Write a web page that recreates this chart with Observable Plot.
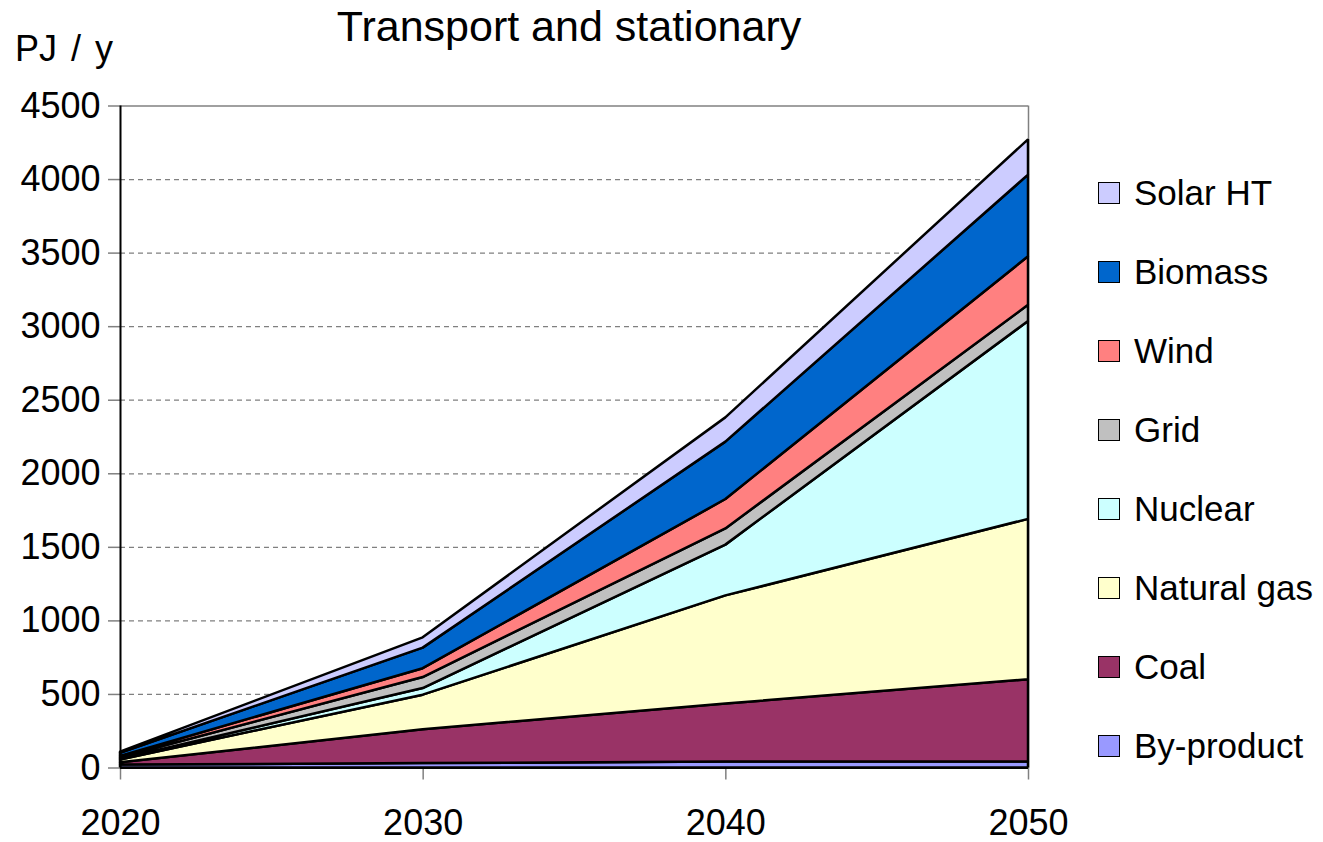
<!DOCTYPE html>
<html>
<head>
<meta charset="utf-8">
<script src="https://cdn.jsdelivr.net/npm/d3@7"></script>
<script src="https://cdn.jsdelivr.net/npm/@observablehq/plot@0.6"></script>
<style>
  html, body { margin: 0; padding: 0; background: #fff; }
  #page {
    position: relative; width: 1323px; height: 842px; overflow: hidden;
    font-family: "Liberation Sans", Arial, sans-serif; color: #000;
  }
  #chart { position: absolute; left: 0; top: 0; }
  #title {
    position: absolute; left: 0; width: 1138px; top: 5px;
    text-align: center; font-size: 43px; line-height: 43px;
  }
  #unit {
    position: absolute; left: 15px; top: 31px;
    font-size: 36px; line-height: 36px; word-spacing: 4px;
  }
  #legend { position: absolute; left: 1098px; top: 153px; }
  .row { display: flex; align-items: center; height: 79px; }
  .swatch {
    width: 20px; height: 20px; border: 1.5px solid #000;
    margin-right: 14px; flex: none;
  }
  .label { font-size: 35px; line-height: 35px; white-space: nowrap; }
</style>
</head>
<body>
<div id="page">
  <div id="chart"></div>
  <div id="title">Transport and stationary</div>
  <div id="unit">PJ / y</div>
  <div id="legend"></div>
</div>
<script>
// Years on the x axis
const years = [2020, 2030, 2040, 2050];

// Energy sources, bottom of the stack first
const sources = ["By-product", "Coal", "Natural gas", "Nuclear", "Grid", "Wind", "Biomass", "Solar HT"];
const sourceColors = ["#9999FF", "#993366", "#FFFFCC", "#CCFFFF", "#C0C0C0", "#FF8080", "#0066CC", "#CCCCFF"];

// Energy use per source (PJ / y), one value per year
const byProduct  = [20, 30, 40, 40];
const coal       = [15, 230, 395, 560];
const naturalGas = [20, 235, 735, 1090];
const nuclear    = [5, 45, 345, 1345];
const grid       = [10, 75, 110, 110];
const wind       = [8, 60, 200, 330];
const biomass    = [22, 140, 390, 555];
const solarHT    = [8, 70, 165, 240];

// y axis tick values
const yTicks = [0, 500, 1000, 1500, 2000, 2500, 3000, 3500, 4000, 4500];

const seriesValues = [byProduct, coal, naturalGas, nuclear, grid, wind, biomass, solarHT];
const rows = [];
sources.forEach((s, i) => {
  years.forEach((y, j) => rows.push({source: s, year: y, value: seriesValues[i][j]}));
});

const chart = Plot.plot({
  width: 1060,
  height: 842,
  marginLeft: 120,
  marginRight: 32,
  marginTop: 105.5,
  marginBottom: 74.5,
  style: {
    fontFamily: "'Liberation Sans', Arial, sans-serif",
    fontSize: "36px",
    color: "#000",
    background: "transparent",
    overflow: "visible"
  },
  x: {domain: [2020, 2050]},
  y: {domain: [0, 4500]},
  color: {domain: sources, range: sourceColors},
  marks: [
    // dashed horizontal gridlines
    Plot.ruleY(yTicks.filter(d => d > 0 && d < 4500), {
      stroke: "#808080", strokeDasharray: "5,4", strokeWidth: 1.2
    }),
    // plot area border (top and right)
    Plot.ruleY([4500], {stroke: "#808080", strokeWidth: 1.5}),
    Plot.ruleX([2050], {stroke: "#808080", strokeWidth: 1.5}),
    // stacked areas
    Plot.areaY(rows, Plot.stackY({
      x: "year",
      y: "value",
      z: "source",
      fill: "source",
      order: sources,
      stroke: "#000",
      strokeWidth: 2.5,
      strokeLinejoin: "miter"
    })),
    // axes
    Plot.axisY(yTicks, {
      label: null, tickSize: 12, tickPadding: 8, stroke: "#808080", fill: "#000",
      tickFormat: d => String(d), strokeWidth: 1.5
    }),
    Plot.axisX(years, {
      label: null, tickSize: 12, tickPadding: 29, stroke: "#808080", fill: "#000",
      tickFormat: d => String(d), strokeWidth: 1.5
    }),
    Plot.ruleX([2020], {stroke: "#000", strokeWidth: 2}),
    Plot.ruleY([0], {stroke: "#000", strokeWidth: 2})
  ]
});
document.getElementById("chart").appendChild(chart);

// Legend, top of the stack first
const legend = document.getElementById("legend");
sources.slice().reverse().forEach(s => {
  const row = document.createElement("div");
  row.className = "row";
  const sw = document.createElement("div");
  sw.className = "swatch";
  sw.style.background = sourceColors[sources.indexOf(s)];
  const lb = document.createElement("div");
  lb.className = "label";
  lb.textContent = s;
  row.appendChild(sw);
  row.appendChild(lb);
  legend.appendChild(row);
});
</script>
</body>
</html>
